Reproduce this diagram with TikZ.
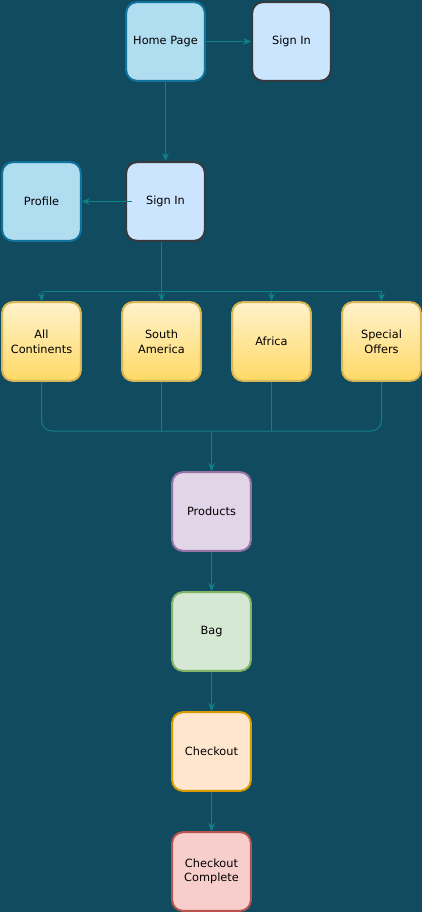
\documentclass[tikz,border=0pt]{standalone}
\usepackage{fontspec}
\setmainfont{DejaVu Sans}
\usetikzlibrary{arrows.meta}
\definecolor{bg}{HTML}{114B5F}
\definecolor{edge}{HTML}{0E8088}
\definecolor{blueF}{HTML}{B1DDF0}\definecolor{blueS}{HTML}{10739E}
\definecolor{lblueF}{HTML}{CCE5FF}\definecolor{lblueS}{HTML}{36393D}
\definecolor{yelT}{HTML}{FFF2CC}\definecolor{yelB}{HTML}{FFD966}\definecolor{yelS}{HTML}{D6B656}
\definecolor{purF}{HTML}{E1D5E7}\definecolor{purS}{HTML}{9673A6}
\definecolor{grnF}{HTML}{D5E8D4}\definecolor{grnS}{HTML}{82B366}
\definecolor{orgF}{HTML}{FFE6CC}\definecolor{orgS}{HTML}{D79B00}
\definecolor{redF}{HTML}{F8CECC}\definecolor{redS}{HTML}{B85450}
\begin{document}
\begin{tikzpicture}[x=0.75pt,y=-0.75pt,
  box/.style={draw,line width=1.5pt,rounded corners=8pt,minimum width=59pt,minimum height=59pt,
    inner sep=0pt,align=center,font=\fontsize{8.5}{11}\selectfont,text=black},
  homebox/.style={box,fill=blueF,draw=blueS},
  signbox/.style={box,fill=lblueF,draw=lblueS},
  yelbox/.style={box,top color=yelT,bottom color=yelB,draw=yelS},
  prodbox/.style={box,fill=purF,draw=purS},
  bagbox/.style={box,fill=grnF,draw=grnS},
  chkbox/.style={box,fill=orgF,draw=orgS},
  donebox/.style={box,fill=redF,draw=redS},
  conn/.style={draw=edge,line width=0.75pt},
  arr/.style={conn,-{Stealth[length=6pt,width=5pt]}}]
\fill[bg] (0,0) rectangle (422,912);
\useasboundingbox (0,0) rectangle (422,912);
\node[homebox] (home) at (165.5,41.5) {Home Page};
\node[signbox] (s1) at (291.5,41.5) {Sign In};
\node[signbox] (s2) at (165.5,201.5) {Sign In};
\node[homebox] (prof) at (41.5,201.5) {Profile};
\node[yelbox] (ac) at (41.5,341.5) {All\\Continents};
\node[yelbox] (sa) at (161.5,341.5) {South\\America};
\node[yelbox] (af) at (271.5,341.5) {Africa};
\node[yelbox] (so) at (381.5,341.5) {Special\\Offers};
\node[prodbox] (prod) at (211.5,511.5) {Products};
\node[bagbox] (bag) at (211.5,631.5) {Bag};
\node[chkbox] (chk) at (211.5,751.5) {Checkout};
\node[donebox] (done) at (211.5,871.5) {Checkout\\Complete};
\coordinate (pstart) at (132,201.5);
\coordinate (stop) at (161.5,242);
\coordinate (b) at (161.5,292);
\coordinate (m) at (211.5,431);
\draw[arr] (home) -- (s1);
\draw[arr] (home) -- (s2);
\draw[arr] (pstart) -- (prof);
\draw[conn] (stop) -- (b);
\draw[conn] (ac.north |- b) -- (so.north |- b);
\draw[arr] (ac.north |- b) -- (ac.north);
\draw[arr] (b) -- (sa.north);
\draw[arr] (af.north |- b) -- (af.north);
\draw[arr] (so.north |- b) -- (so.north);
\draw[conn,rounded corners=8pt] (ac.south) |- (m);
\draw[conn,rounded corners=8pt] (so.south) |- (m);
\draw[conn] (sa.south) -- (sa.south |- m);
\draw[conn] (af.south) -- (af.south |- m);
\draw[arr] (m) -- (prod.north);
\draw[arr] (prod) -- (bag);
\draw[arr] (bag) -- (chk);
\draw[arr] (chk) -- (done);
\end{tikzpicture}
\end{document}
